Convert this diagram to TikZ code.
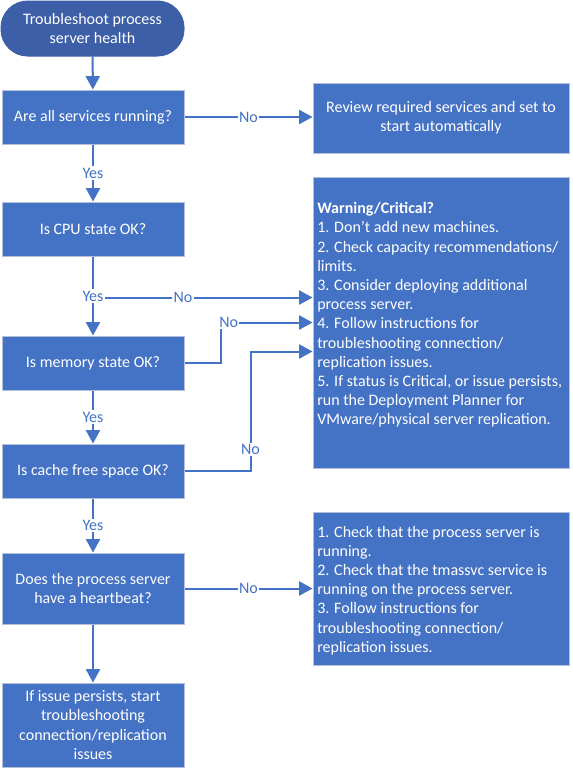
\documentclass[tikz,border=0pt]{standalone}
\usepackage{fontspec}
\setmainfont{Carlito}
\usetikzlibrary{arrows.meta,calc}
\definecolor{boxblue}{HTML}{4472C4}
\definecolor{startblue}{HTML}{3D5FA8}
\definecolor{edgegray}{HTML}{B4C0DA}
\begin{document}
\begin{tikzpicture}[x=0.75pt,y=-0.75pt,
  txt/.style={font=\fontsize{12}{14.4}\selectfont},
  box/.style={txt, draw=edgegray, line width=0.75pt, fill=boxblue, text=white, align=center, inner sep=0pt},
  leftbox/.style={box, minimum width=136.5pt},
  rightbox/.style={box, minimum width=192pt},
  startbox/.style={box, fill=startblue, draw=startblue, minimum width=137.25pt, minimum height=41.25pt, rounded corners=20pt},
  arr/.style={draw=boxblue, line width=1.5pt, -{Triangle[width=10.5pt,length=10pt]}},
  lbl/.style={txt, fill=white, text=boxblue, inner sep=1pt},
  wtext/.style={txt, text=white, align=left, inner sep=0pt, anchor=west}
]
\fill[white] (0,0) rectangle (573,772);
\useasboundingbox (0,0) rectangle (573,772);

% nodes
\node[startbox] (start) at (92.5,28.5) {Troubleshoot process\\server health};
\node[leftbox, minimum height=40.5pt] (q1) at (93,117) {Are all services running?};
\node[rightbox, minimum height=52.5pt] (review) at (441,118) {Review required services and set to\\start automatically};
\node[leftbox, minimum height=40.5pt] (cpu) at (93,229) {Is CPU state OK?};
\node[leftbox, minimum height=40.5pt] (mem) at (93,363) {Is memory state OK?};
\node[leftbox, minimum height=40.5pt] (cache) at (93,471) {Is cache free space OK?};
\node[leftbox, minimum height=53.25pt] (hb) at (93,588.5) {Does the process server\\have a heartbeat?};
\node[leftbox, minimum height=63pt] (last) at (93,725) {If issue persists, start\\troubleshooting\\connection/replication\\issues};
\node[rightbox, minimum height=218.25pt] (warn) at (441,322.5) {};
\node[wtext] (warntext) at (317,315) {\textbf{Warning/Critical?}\\
1. Don’t add new machines.\\
2. Check capacity recommendations/\\
limits.\\
3. Consider deploying additional\\
process server.\\
4. Follow instructions for\\
troubleshooting connection/\\
replication issues.\\
5. If status is Critical, or issue persists,\\
run the Deployment Planner for\\
VMware/physical server replication.};
\node[rightbox, minimum height=114.75pt] (advice) at (441,588.5) {};
\node[wtext] (advicetext) at (317,590.5) {1. Check that the process server is\\
running.\\
2. Check that the tmassvc service is\\
running on the process server.\\
3. Follow instructions for\\
troubleshooting connection/\\
replication issues.};

% coordinates on the warning box
\coordinate (w1) at ($(warn.north west)+(0,121)$);
\coordinate (w2) at ($(warn.north west)+(0,146)$);
\coordinate (w3) at ($(warn.north west)+(0,175)$);
\coordinate (m1) at ($(mem.east)+(36,0)$);
\coordinate (c1) at ($(cache.east)+(66,0)$);

% connectors
\draw[arr] (start) -- (q1);
\draw[arr] (q1.east) -- node[lbl]{No} (q1.east -| review.west);
\draw[arr] (q1) -- node[lbl]{Yes} (cpu);
\draw[arr] (cpu.south) |- node[lbl, pos=0.705]{No} (w1);
\draw[arr] (cpu) -- node[lbl]{Yes} (mem);
\draw[arr] (mem.east) -- (m1) |- node[lbl, pos=0.545]{No} (w2);
\draw[arr] (mem) -- node[lbl]{Yes} (cache);
\draw[arr] (cache.east) -- (c1) |- node[lbl, pos=0.09]{No} (w3);
\draw[arr] (cache) -- node[lbl]{Yes} (hb);
\draw[arr] (hb.east) -- node[lbl]{No} (hb.east -| advice.west);
\draw[arr] (hb) -- (last);
\end{tikzpicture}
\end{document}
